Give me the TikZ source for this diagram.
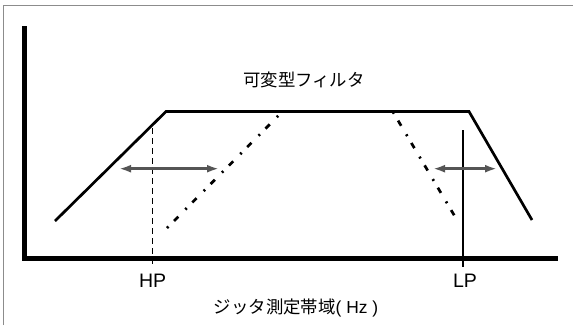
\documentclass[tikz,border=0pt]{standalone}
\usepackage{fontspec}
\setmainfont{Liberation Sans}
\newfontfamily\jp{Noto Sans CJK JP}
\usetikzlibrary{arrows.meta}
\definecolor{arrowgray}{HTML}{555555}
\definecolor{framegray}{HTML}{8C8C8C}
\begin{document}
\begin{tikzpicture}[x=1pt,y=-1pt,
  axis/.style={line width=5pt, line join=miter},
  curve/.style={line width=2.7pt, line join=miter},
  dashdot/.style={line width=2.7pt, dash pattern=on 2pt off 8pt on 6pt off 10pt},
  marker/.style={line width=1.3pt},
  hpmarker/.style={marker, dash pattern=on 6pt off 4pt},
  shiftarrow/.style={line width=2.8pt, draw=arrowgray, {Latex[length=12pt,width=8pt]}-{Latex[length=12pt,width=8pt]}},
  lbl/.style={inner sep=0pt, anchor=base, font=\fontsize{19.5}{20}\selectfont},
  jplbl/.style={inner sep=0pt, anchor=base, font=\fontsize{17.4}{18}\selectfont\jp}]
\useasboundingbox (0,0) rectangle (573,325);
% frame
\draw[framegray, line width=1.5pt] (3.5,325) -- (3.5,5.5) -- (573,5.5);
% axes
\coordinate (ytop) at (24,26);
\coordinate (origin) at (24,258);
\coordinate (xend) at (558,258);
\draw[axis] (ytop) -- (origin) -- (xend);
% trapezoid
\coordinate (t1) at (55,221);
\coordinate (t2) at (166,111.5);
\coordinate (t3) at (469,111.5);
\coordinate (t4) at (532,220);
\draw[curve] (t1) -- (t2) -- (t3) -- (t4);
% shifted slopes
\coordinate (l1) at (167,228);
\coordinate (l2) at (282,112);
\coordinate (r1) at (393,112);
\coordinate (r2) at (457,220);
\draw[dashdot] (l1) -- (l2);
\draw[dashdot] (r1) -- (r2);
% cut-off markers
\coordinate (hptop) at (152.7,128);
\coordinate (hpbot) at (152.7,267);
\coordinate (lptop) at (463,130);
\coordinate (lpbot) at (463,267);
\draw[hpmarker] (hptop) -- (hpbot);
\draw[marker] (lptop) -- (lpbot);
% arrows
\coordinate (a1) at (119,168.7);
\coordinate (a2) at (219,168.7);
\coordinate (b1) at (433,168.7);
\coordinate (b2) at (497,168.7);
\draw[shiftarrow] (a1) -- (a2);
\draw[shiftarrow] (b1) -- (b2);
% labels
\node[jplbl] (title) at (304,86) {可変型フィルタ};
\node[lbl] (hp) at (152.7,287) {HP};
\node[lbl] (lp) at (465,287) {LP};
\node[lbl, font=\fontsize{17.4}{18}\selectfont] (xlabel) at (296,313) {{\jp ジッタ測定帯域}( Hz )};
\end{tikzpicture}
\end{document}
